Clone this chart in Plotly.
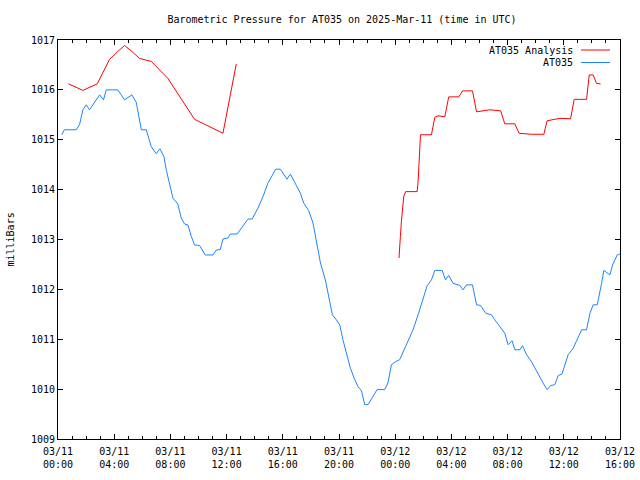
import pandas as pd
import plotly.graph_objects as go

# ---- data ----
start = pd.Timestamp("2025-03-11 00:00")

blue_hours = [0.27,0.46,1.30,1.53,1.77,2.01,2.24,2.48,2.72,2.96,
              3.24,3.43,4.26,4.74,5.26,5.57,5.93,6.28,6.64,6.99,
              7.25,7.54,7.71,7.94,8.18,8.53,8.77,9.01,9.25,9.49,
              9.72,10.08,10.48,11.03,11.27,11.55,11.74,12.09,12.27,12.75,
              13.16,13.52,13.82,14.23,14.59,14.94,15.30,15.49,15.83,16.30,
              16.54,16.84,17.04,17.25,17.49,17.84,18.15,18.43,18.68,19.03,
              19.34,19.53,19.81,20.05,20.28,20.53,20.81,21.12,21.35,21.60,
              21.83,22.07,22.31,22.71,23.26,23.49,23.73,24.02,24.32,24.56,
              24.91,25.27,25.63,25.98,26.27,26.58,26.82,27.34,27.58,27.81,
              28.12,28.60,28.83,29.07,29.50,29.79,30.07,30.45,30.85,31.09,
              31.45,31.80,32.04,32.32,32.51,32.87,33.06,33.35,33.70,34.06,
              34.53,34.81,35.06,35.36,35.60,35.88,36.31,36.67,37.14,37.27,
              37.62,37.86,38.09,38.38,38.69,38.85,39.28,39.47,39.80,40.0]
blue_pressure = [1015.1,1015.2,1015.2,1015.3,1015.6,1015.7,1015.6,1015.7,1015.8,1015.9,
                 1015.8,1016.0,1016.0,1015.8,1015.9,1015.75,1015.2,1015.2,1014.86,1014.72,
                 1014.82,1014.66,1014.39,1014.09,1013.83,1013.71,1013.43,1013.31,1013.29,1013.06,
                 1012.89,1012.88,1012.69,1012.69,1012.79,1012.8,1013.01,1013.03,1013.11,1013.11,
                 1013.26,1013.41,1013.41,1013.63,1013.86,1014.13,1014.31,1014.41,1014.41,1014.21,
                 1014.31,1014.16,1014.03,1013.93,1013.73,1013.58,1013.33,1012.93,1012.53,1012.19,
                 1011.72,1011.49,1011.39,1011.29,1010.99,1010.72,1010.42,1010.19,1010.05,1009.97,
                 1009.69,1009.69,1009.8,1009.99,1009.99,1010.13,1010.49,1010.55,1010.59,1010.75,
                 1010.95,1011.19,1011.49,1011.79,1012.07,1012.19,1012.38,1012.38,1012.19,1012.28,
                 1012.12,1012.08,1011.99,1012.09,1012.09,1011.69,1011.68,1011.52,1011.49,1011.39,
                 1011.24,1011.12,1010.89,1010.97,1010.79,1010.79,1010.87,1010.69,1010.55,1010.35,
                 1010.12,1009.99,1010.07,1010.09,1010.27,1010.31,1010.69,1010.82,1011.1,1011.19,
                 1011.19,1011.52,1011.69,1011.69,1012.12,1012.38,1012.29,1012.49,1012.69,1012.71]

red1_hours = [0.75,1.77,2.79,3.67,4.26,4.74,5.26,5.80,6.64,7.35,7.82,9.72,11.74,12.69]
red1_pressure = [1016.12,1015.99,1016.12,1016.61,1016.77,1016.89,1016.77,1016.63,1016.57,
                 1016.36,1016.23,1015.41,1015.13,1016.52]
red2_hours = [24.27,24.32,24.37,24.44,24.52,24.61,24.75,25.56,25.63,25.70,
              25.80,26.58,26.82,27.05,27.53,27.81,28.53,28.79,29.50,29.79,
              30.73,31.50,31.80,32.51,32.82,33.70,34.58,34.81,35.72,36.48,
              36.74,37.62,37.81,38.09,38.33,38.62]
red2_pressure = [1012.63,1012.79,1013.06,1013.36,1013.66,1013.87,1013.96,1013.96,1014.16,1014.6,
                 1015.10,1015.10,1015.45,1015.48,1015.46,1015.86,1015.86,1015.98,1015.98,1015.56,
                 1015.6,1015.58,1015.32,1015.32,1015.13,1015.11,1015.11,1015.38,1015.43,1015.42,
                 1015.81,1015.81,1016.3,1016.3,1016.13,1016.12]

tick_hours = [0, 4, 8, 12, 16, 20, 24, 28, 32, 36, 40]
tick_labels = ["03/11<br>00:00", "03/11<br>04:00", "03/11<br>08:00", "03/11<br>12:00",
               "03/11<br>16:00", "03/11<br>20:00", "03/12<br>00:00", "03/12<br>04:00",
               "03/12<br>08:00", "03/12<br>12:00", "03/12<br>16:00"]

RED = "#ff0000"
BLUE = "#1a85ff"
FONT = "DejaVu Sans Mono"


def to_time(hours):
    return [start + pd.Timedelta(hours=h) for h in hours]


red_x = to_time(red1_hours) + [None] + to_time(red2_hours)
red_y = red1_pressure + [None] + red2_pressure

fig = go.Figure()
fig.add_trace(go.Scatter(x=to_time(blue_hours), y=blue_pressure, mode="lines",
                         line=dict(color=BLUE, width=1), name="AT035"))
fig.add_trace(go.Scatter(x=red_x, y=red_y, mode="lines", connectgaps=False,
                         line=dict(color=RED, width=1), name="AT035 Analysis"))

fig.update_layout(
    width=640, height=480,
    margin=dict(l=58, r=20, t=40, b=41),
    paper_bgcolor="white", plot_bgcolor="white",
    showlegend=False,
    font=dict(family=FONT, size=10, color="black"),
    title=dict(text="Barometric Pressure for AT035 on 2025-Mar-11 (time in UTC)",
               x=342 / 640, xanchor="center", y=1 - 19 / 480, yanchor="middle",
               font=dict(family=FONT, size=10, color="black")),
)
fig.update_xaxes(
    range=[start, start + pd.Timedelta(hours=40)],
    tickvals=to_time(tick_hours), ticktext=tick_labels,
    ticks="inside", ticklen=5, tickcolor="black", tickwidth=1,
    minor=dict(dtick=3600000, ticks="inside", ticklen=3, tickcolor="black", tickwidth=1),
    showline=True, linecolor="black", linewidth=1, mirror="ticks",
    showgrid=False, zeroline=False, automargin=False, ticklabelstandoff=3,
    tickfont=dict(family=FONT, size=10, color="black"),
)
fig.update_yaxes(
    range=[1009, 1017], dtick=1, tick0=1009,
    ticks="inside", ticklen=5, tickcolor="black", tickwidth=1,
    showline=True, linecolor="black", linewidth=1, mirror="ticks",
    showgrid=False, zeroline=False, automargin=False,
    tickfont=dict(family=FONT, size=10, color="black"),
)

# y-axis label
fig.add_annotation(text="milliBars", xref="paper", yref="paper",
                   x=(10 - 58) / 562, y=0.5, xanchor="center", yanchor="middle",
                   textangle=-90, showarrow=False,
                   font=dict(family=FONT, size=10, color="black"))

# gnuplot-style key: text then line sample
for label, color, ypx in [("AT035 Analysis", RED, 50), ("AT035", BLUE, 62.5)]:
    yp = (439 - ypx) / 399
    fig.add_annotation(text=label, xref="paper", yref="paper",
                       x=(575 - 58) / 562, y=yp, xanchor="right", yanchor="middle",
                       showarrow=False, font=dict(family=FONT, size=10, color="black"))
    fig.add_shape(type="line", xref="paper", yref="paper",
                  x0=(581 - 58) / 562, x1=(610 - 58) / 562, y0=yp, y1=yp,
                  line=dict(color=color, width=1))

fig.write_html("out.html",
               config={"displayModeBar": False},
               post_script="document.body.style.margin='0';document.body.style.overflow='hidden';")
